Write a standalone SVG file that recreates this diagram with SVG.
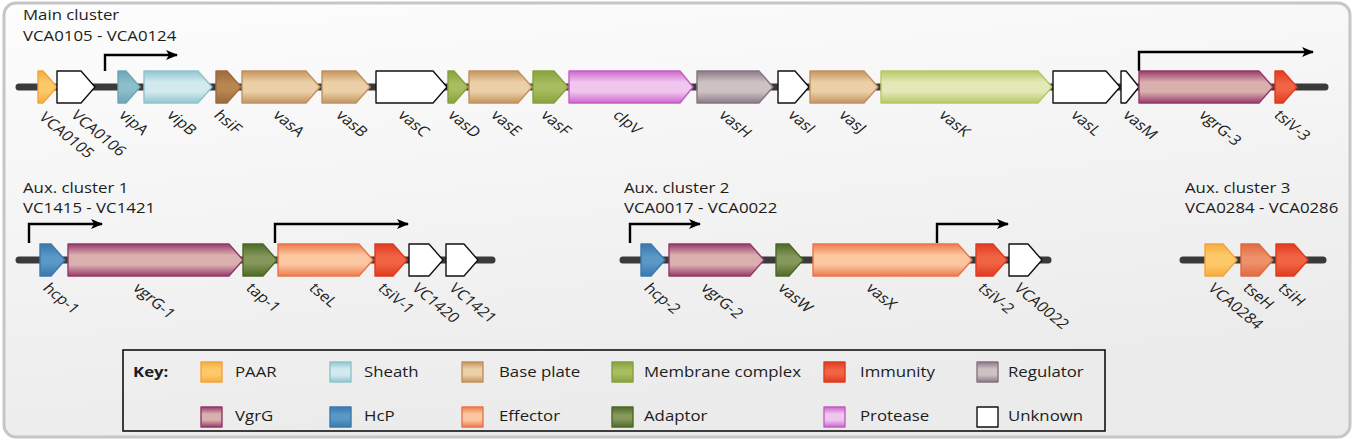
<svg xmlns="http://www.w3.org/2000/svg" width="1356" height="441" viewBox="0 0 1356 441">
<style>
text{font-family:"Open Sans","Liberation Sans",sans-serif;font-size:14px;fill:#1c1c1c}
.b{font-weight:bold}
.gene{stroke-width:1.4;stroke-linejoin:round}
.unk{fill:#fff;stroke:#111}
.paar{fill:url(#gPAAR);stroke:#f2a53a}
.shD{fill:url(#gShD);stroke:#6ea6b6}
.sh{fill:url(#gSh);stroke:#8fc3ce}
.bpD{fill:url(#gBpD);stroke:#9c6a3c}
.bp{fill:url(#gBp);stroke:#c0915f}
.mcD{fill:url(#gMcD);stroke:#86a03c}
.mcL{fill:url(#gMcL);stroke:#b7c767}
.prot{fill:url(#gProt);stroke:#c65cc6}
.reg{fill:url(#gReg);stroke:#857482}
.vgrg{fill:url(#gVgr);stroke:#933868}
.imm{fill:url(#gImm);stroke:#df3a1e}
.hcp{fill:url(#gHcp);stroke:#3a78ae}
.adp{fill:url(#gAdp);stroke:#4c6826}
.eff{fill:url(#gEff);stroke:#e8764a}
.effD{fill:url(#gEffD);stroke:#e06a42}
.bb{stroke:#3a3a3a;stroke-width:7;stroke-linecap:round;fill:none}
.pr{stroke:#000;stroke-width:2.4;fill:none;marker-end:url(#ah)}
</style>
<defs>
<linearGradient id="bg" x1="0" y1="0" x2="0.3" y2="1"><stop offset="0" stop-color="#fdfdfd"/><stop offset="1" stop-color="#ebebeb"/></linearGradient>
<linearGradient id="gPAAR" x1="0" y1="0" x2="0" y2="1"><stop offset="0" stop-color="#f6ac40"/><stop offset="0.35" stop-color="#fcc868"/><stop offset="0.65" stop-color="#fcc868"/><stop offset="1" stop-color="#f6ac40"/></linearGradient>
<linearGradient id="gShD" x1="0" y1="0" x2="0" y2="1"><stop offset="0" stop-color="#6ea6b6"/><stop offset="0.4" stop-color="#8dbecb"/><stop offset="0.6" stop-color="#8dbecb"/><stop offset="1" stop-color="#6ea6b6"/></linearGradient>
<linearGradient id="gSh" x1="0" y1="0" x2="0" y2="1"><stop offset="0" stop-color="#92c5d0"/><stop offset="0.35" stop-color="#d2eaee"/><stop offset="0.65" stop-color="#d2eaee"/><stop offset="1" stop-color="#92c5d0"/></linearGradient>
<linearGradient id="gBpD" x1="0" y1="0" x2="0" y2="1"><stop offset="0" stop-color="#9c6a3c"/><stop offset="0.4" stop-color="#b88650"/><stop offset="0.6" stop-color="#b88650"/><stop offset="1" stop-color="#9c6a3c"/></linearGradient>
<linearGradient id="gBp" x1="0" y1="0" x2="0" y2="1"><stop offset="0" stop-color="#c4955f"/><stop offset="0.35" stop-color="#ebcfa6"/><stop offset="0.65" stop-color="#ebcfa6"/><stop offset="1" stop-color="#c4955f"/></linearGradient>
<linearGradient id="gMcD" x1="0" y1="0" x2="0" y2="1"><stop offset="0" stop-color="#88a23e"/><stop offset="0.4" stop-color="#a8bc60"/><stop offset="0.6" stop-color="#a8bc60"/><stop offset="1" stop-color="#88a23e"/></linearGradient>
<linearGradient id="gMcL" x1="0" y1="0" x2="0" y2="1"><stop offset="0" stop-color="#b8c868"/><stop offset="0.35" stop-color="#e2e8b6"/><stop offset="0.65" stop-color="#e2e8b6"/><stop offset="1" stop-color="#b8c868"/></linearGradient>
<linearGradient id="gProt" x1="0" y1="0" x2="0" y2="1"><stop offset="0" stop-color="#cc66cc"/><stop offset="0.35" stop-color="#f0c6ee"/><stop offset="0.65" stop-color="#f0c6ee"/><stop offset="1" stop-color="#cc66cc"/></linearGradient>
<linearGradient id="gReg" x1="0" y1="0" x2="0" y2="1"><stop offset="0" stop-color="#8a7a88"/><stop offset="0.35" stop-color="#cdc2c2"/><stop offset="0.65" stop-color="#cdc2c2"/><stop offset="1" stop-color="#8a7a88"/></linearGradient>
<linearGradient id="gVgr" x1="0" y1="0" x2="0" y2="1"><stop offset="0" stop-color="#983c6c"/><stop offset="0.35" stop-color="#d9b0ae"/><stop offset="0.65" stop-color="#d9b0ae"/><stop offset="1" stop-color="#983c6c"/></linearGradient>
<linearGradient id="gImm" x1="0" y1="0" x2="0" y2="1"><stop offset="0" stop-color="#e03c20"/><stop offset="0.4" stop-color="#f06444"/><stop offset="0.6" stop-color="#f06444"/><stop offset="1" stop-color="#e03c20"/></linearGradient>
<linearGradient id="gHcp" x1="0" y1="0" x2="0" y2="1"><stop offset="0" stop-color="#3a78ae"/><stop offset="0.4" stop-color="#5a98c6"/><stop offset="0.6" stop-color="#5a98c6"/><stop offset="1" stop-color="#3a78ae"/></linearGradient>
<linearGradient id="gAdp" x1="0" y1="0" x2="0" y2="1"><stop offset="0" stop-color="#4e6a28"/><stop offset="0.4" stop-color="#86985c"/><stop offset="0.6" stop-color="#86985c"/><stop offset="1" stop-color="#4e6a28"/></linearGradient>
<linearGradient id="gEff" x1="0" y1="0" x2="0" y2="1"><stop offset="0" stop-color="#ec7c4e"/><stop offset="0.35" stop-color="#fcc6a0"/><stop offset="0.65" stop-color="#fcc6a0"/><stop offset="1" stop-color="#ec7c4e"/></linearGradient>
<linearGradient id="gEffD" x1="0" y1="0" x2="0" y2="1"><stop offset="0" stop-color="#e06a42"/><stop offset="0.4" stop-color="#ee9068"/><stop offset="0.6" stop-color="#ee9068"/><stop offset="1" stop-color="#e06a42"/></linearGradient>
<marker id="ah" viewBox="0 0 12 10" refX="11" refY="5" markerWidth="12" markerHeight="10" markerUnits="userSpaceOnUse" orient="auto"><path d="M0 0 L12 5 L0 10 L3 5 Z" fill="#000"/></marker>
</defs>

<rect x="4" y="3" width="1346" height="434" rx="12" fill="url(#bg)" stroke="#c6c6c6" stroke-width="3"/>

<g id="titles">
<text transform="translate(23,20) scale(1.2,1)">Main cluster</text>
<text transform="translate(23,41) scale(1.2,1)">VCA0105 - VCA0124</text>
<text transform="translate(23,193) scale(1.2,1)">Aux. cluster 1</text>
<text transform="translate(23,213) scale(1.2,1)">VC1415 - VC1421</text>
<text transform="translate(624,193) scale(1.2,1)">Aux. cluster 2</text>
<text transform="translate(624,213) scale(1.2,1)">VCA0017 - VCA0022</text>
<text transform="translate(1185,193) scale(1.2,1)">Aux. cluster 3</text>
<text transform="translate(1185,213) scale(1.2,1)">VCA0284 - VCA0286</text>
</g>

<g id="connectors">
<line class="bb" x1="19" y1="87" x2="1325" y2="87"/>
<line class="bb" x1="19" y1="260" x2="492" y2="260"/>
<line class="bb" x1="623" y1="260" x2="1048" y2="260"/>
<line class="bb" x1="1183" y1="260" x2="1323" y2="260"/>
<path class="pr" d="M105 71 V55 H177"/>
<path class="pr" d="M1139 71 V52 H1313"/>
<path class="pr" d="M29 243 V224 H102"/>
<path class="pr" d="M275 243 V224 H408"/>
<path class="pr" d="M630 243 V224 H700"/>
<path class="pr" d="M937 243 V224 H1008"/>
</g>

<g id="main-cluster">
<g id="VCA0105"><path class="gene paar" d="M38 71 H43 L57 87 L43 103 H38 Z"/><text transform="translate(38,118) scale(1.2,1) rotate(45)">VCA0105</text></g>
<g id="VCA0106"><path class="gene unk" d="M57 71 H81 L95 87 L81 103 H57 Z"/><text transform="translate(70,116) scale(1.2,1) rotate(45)">VCA0106</text></g>
<g id="vipA"><path class="gene shD" d="M118 71 H126 L140 87 L126 103 H118 Z"/><text transform="translate(118,116) scale(1.2,1) rotate(45)">vipA</text></g>
<g id="vipB"><path class="gene sh" d="M144 71 H198 L212 87 L198 103 H144 Z"/><text transform="translate(166,116) scale(1.2,1) rotate(45)">vipB</text></g>
<g id="hsiF"><path class="gene bpD" d="M216 71 H227 L241 87 L227 103 H216 Z"/><text transform="translate(213,116) scale(1.2,1) rotate(45)">hsiF</text></g>
<g id="vasA"><path class="gene bp" d="M242 71 H306 L320 87 L306 103 H242 Z"/><text transform="translate(272,116) scale(1.2,1) rotate(45)">vasA</text></g>
<g id="vasB"><path class="gene bp" d="M322 71 H356 L370 87 L356 103 H322 Z"/><text transform="translate(335,116) scale(1.2,1) rotate(45)">vasB</text></g>
<g id="vasC"><path class="gene unk" d="M376 71 H433 L447 87 L433 103 H376 Z"/><text transform="translate(397,116) scale(1.2,1) rotate(45)">vasC</text></g>
<g id="vasD"><path class="gene mcD" d="M448 71 H454 L468 87 L454 103 H448 Z"/><text transform="translate(447,116) scale(1.2,1) rotate(45)">vasD</text></g>
<g id="vasE"><path class="gene bp" d="M469 71 H518 L532 87 L518 103 H469 Z"/><text transform="translate(490,116) scale(1.2,1) rotate(45)">vasE</text></g>
<g id="vasF"><path class="gene mcD" d="M533 71 H554 L568 87 L554 103 H533 Z"/><text transform="translate(540,116) scale(1.2,1) rotate(45)">vasF</text></g>
<g id="clpV"><path class="gene prot" d="M569 71 H680 L693 87 L680 103 H569 Z"/><text transform="translate(612,116) scale(1.2,1) rotate(45)">clpV</text></g>
<g id="vasH"><path class="gene reg" d="M697 71 H759 L773 87 L759 103 H697 Z"/><text transform="translate(718,116) scale(1.2,1) rotate(45)">vasH</text></g>
<g id="vasI"><path class="gene unk" d="M778 71 H795 L809 87 L795 103 H778 Z"/><text transform="translate(787,116) scale(1.2,1) rotate(45)">vasI</text></g>
<g id="vasJ"><path class="gene bp" d="M810 71 H864 L878 87 L864 103 H810 Z"/><text transform="translate(838,116) scale(1.2,1) rotate(45)">vasJ</text></g>
<g id="vasK"><path class="gene mcL" d="M881 71 H1038 L1052 87 L1038 103 H881 Z"/><text transform="translate(938,116) scale(1.2,1) rotate(45)">vasK</text></g>
<g id="vasL"><path class="gene unk" d="M1053 71 H1106 L1120 87 L1106 103 H1053 Z"/><text transform="translate(1070,116) scale(1.2,1) rotate(45)">vasL</text></g>
<g id="vasM"><path class="gene unk" d="M1121 71 H1126 L1139 87 L1126 103 H1121 Z"/><text transform="translate(1122,116) scale(1.2,1) rotate(45)">vasM</text></g>
<g id="vgrG-3"><path class="gene vgrg" d="M1139 71 H1259 L1273 87 L1259 103 H1139 Z"/><text transform="translate(1198,116) scale(1.2,1) rotate(45)">vgrG-3</text></g>
<g id="tsiV-3"><path class="gene imm" d="M1275 71 H1283 L1297 87 L1283 103 H1275 Z"/><text transform="translate(1273,116) scale(1.2,1) rotate(45)">tsiV-3</text></g>
</g>

<g id="aux-cluster-1">
<g id="hcp-1"><path class="gene hcp" d="M40 244 H51 L65 260 L51 276 H40 Z"/><text transform="translate(42,289) scale(1.2,1) rotate(45)">hcp-1</text></g>
<g id="vgrG-1"><path class="gene vgrg" d="M68 244 H229 L243 260 L229 276 H68 Z"/><text transform="translate(132,289) scale(1.2,1) rotate(45)">vgrG-1</text></g>
<g id="tap-1"><path class="gene adp" d="M243 244 H263 L277 260 L263 276 H243 Z"/><text transform="translate(245,289) scale(1.2,1) rotate(45)">tap-1</text></g>
<g id="tseL"><path class="gene eff" d="M278 244 H359 L373 260 L359 276 H278 Z"/><text transform="translate(308,289) scale(1.2,1) rotate(45)">tseL</text></g>
<g id="tsiV-1"><path class="gene imm" d="M375 244 H393 L407 260 L393 276 H375 Z"/><text transform="translate(377,289) scale(1.2,1) rotate(45)">tsiV-1</text></g>
<g id="VC1420"><path class="gene unk" d="M409 244 H429 L443 260 L429 276 H409 Z"/><text transform="translate(411,289) scale(1.2,1) rotate(45)">VC1420</text></g>
<g id="VC1421"><path class="gene unk" d="M446 244 H464 L478 260 L464 276 H446 Z"/><text transform="translate(448,289) scale(1.2,1) rotate(45)">VC1421</text></g>
</g>

<g id="aux-cluster-2">
<g id="hcp-2"><path class="gene hcp" d="M641 244 H651 L665 260 L651 276 H641 Z"/><text transform="translate(643,289) scale(1.2,1) rotate(45)">hcp-2</text></g>
<g id="vgrG-2"><path class="gene vgrg" d="M669 244 H750 L764 260 L750 276 H669 Z"/><text transform="translate(700,289) scale(1.2,1) rotate(45)">vgrG-2</text></g>
<g id="vasW"><path class="gene adp" d="M776 244 H789 L803 260 L789 276 H776 Z"/><text transform="translate(777,289) scale(1.2,1) rotate(45)">vasW</text></g>
<g id="vasX"><path class="gene eff" d="M813 244 H958 L972 260 L958 276 H813 Z"/><text transform="translate(865,289) scale(1.2,1) rotate(45)">vasX</text></g>
<g id="tsiV-2"><path class="gene imm" d="M976 244 H993 L1007 260 L993 276 H976 Z"/><text transform="translate(977,289) scale(1.2,1) rotate(45)">tsiV-2</text></g>
<g id="VCA0022"><path class="gene unk" d="M1009 244 H1028 L1042 260 L1028 276 H1009 Z"/><text transform="translate(1013,289) scale(1.2,1) rotate(45)">VCA0022</text></g>
</g>

<g id="aux-cluster-3">
<g id="VCA0284"><path class="gene paar" d="M1205 244 H1223 L1237 260 L1223 276 H1205 Z"/><text transform="translate(1207,289) scale(1.2,1) rotate(45)">VCA0284</text></g>
<g id="tseH"><path class="gene effD" d="M1241 244 H1259 L1273 260 L1259 276 H1241 Z"/><text transform="translate(1242,289) scale(1.2,1) rotate(45)">tseH</text></g>
<g id="tsiH"><path class="gene imm" d="M1276 244 H1294 L1308 260 L1294 276 H1276 Z"/><text transform="translate(1277,289) scale(1.2,1) rotate(45)">tsiH</text></g>
</g>

<g id="key">
<rect x="123" y="350" width="982" height="81" fill="none" stroke="#111" stroke-width="1.6"/>
<text class="b" transform="translate(133,377) scale(1.2,1)">Key:</text>
<rect class="gene paar" x="201" y="362" width="21" height="20"/><text transform="translate(235,377) scale(1.2,1)">PAAR</text>
<rect class="gene sh" x="330" y="362" width="21" height="20"/><text transform="translate(364,377) scale(1.2,1)">Sheath</text>
<rect class="gene bp" x="462" y="362" width="21" height="20"/><text transform="translate(499,377) scale(1.2,1)">Base plate</text>
<rect class="gene mcD" x="612" y="362" width="21" height="20"/><text transform="translate(644,377) scale(1.2,1)">Membrane complex</text>
<rect class="gene imm" x="824" y="362" width="21" height="20"/><text transform="translate(860,377) scale(1.2,1)">Immunity</text>
<rect class="gene reg" x="977" y="362" width="21" height="20"/><text transform="translate(1008,377) scale(1.2,1)">Regulator</text>
<rect class="gene vgrg" x="201" y="407" width="21" height="20"/><text transform="translate(235,421) scale(1.2,1)">VgrG</text>
<rect class="gene hcp" x="330" y="407" width="21" height="20"/><text transform="translate(364,421) scale(1.2,1)">HcP</text>
<rect class="gene eff" x="462" y="407" width="21" height="20"/><text transform="translate(499,421) scale(1.2,1)">Effector</text>
<rect class="gene adp" x="612" y="407" width="21" height="20"/><text transform="translate(644,421) scale(1.2,1)">Adaptor</text>
<rect class="gene prot" x="824" y="407" width="21" height="20"/><text transform="translate(860,421) scale(1.2,1)">Protease</text>
<rect class="gene unk" x="977" y="407" width="21" height="20" stroke-width="2"/><text transform="translate(1008,421) scale(1.2,1)">Unknown</text>
</g>
</svg>
